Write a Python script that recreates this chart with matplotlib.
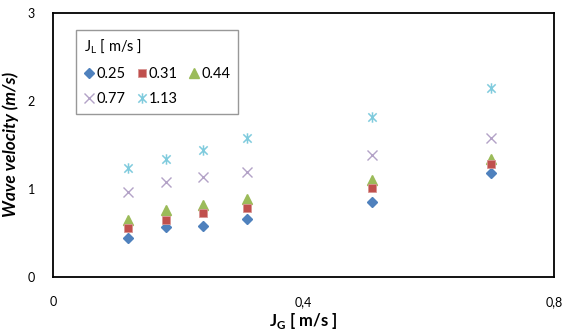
import matplotlib
matplotlib.use("Agg")
import matplotlib.pyplot as plt
from matplotlib.path import Path

plt.rcParams['font.family'] = ['Lato', 'DejaVu Sans']
plt.rcParams['mathtext.fontset'] = 'custom'
plt.rcParams['mathtext.rm'] = 'Lato'
plt.rcParams['mathtext.bf'] = 'Lato:bold'

# Data
jg = [0.12, 0.18, 0.24, 0.31, 0.51, 0.70]
series_labels = ['0.25', '0.31', '0.44', '0.77', '1.13']
v_025 = [0.44, 0.57, 0.58, 0.66, 0.85, 1.18]
v_031 = [0.56, 0.65, 0.73, 0.78, 1.01, 1.28]
v_044 = [0.65, 0.76, 0.82, 0.89, 1.10, 1.34]
v_077 = [0.97, 1.08, 1.13, 1.19, 1.39, 1.58]
v_113 = [1.24, 1.34, 1.44, 1.58, 1.82, 2.15]
x_ticks = [0, 0.4, 0.8]
x_ticklabels = ['0', '0,4', '0,8']
y_ticks = [0, 1, 2, 3]

star = Path([(-1, -1), (1, 1), (-1, 1), (1, -1), (0, -1.25), (0, 1.25)],
            [Path.MOVETO, Path.LINETO, Path.MOVETO, Path.LINETO, Path.MOVETO, Path.LINETO])

fig = plt.figure(figsize=(5.64, 3.33), dpi=100)
ax = fig.add_axes([53/564, 1 - 277/333, (554-53)/564, (277-12.7)/333])

styles = [
    (v_025, dict(marker='D', color='#4F81BD', ms=5.2, mec='#4F81BD', zorder=3)),
    (v_031, dict(marker='s', color='#C0504D', ms=6.3, mec='#D99694', mew=0.6, zorder=5)),
    (v_044, dict(marker='^', color='#9BBB59', ms=7, mec='#9BBB59', zorder=4)),
    (v_077, dict(marker='x', color='#B3A2C7', ms=7.5, mew=1.0, zorder=3)),
    (v_113, dict(marker=star, color='#7FCBDD', ms=7.5, mew=1.1, mfc='none', zorder=3)),
]
handles = []
for (vals, st), lab in zip(styles, series_labels):
    h, = ax.plot(jg, vals, linestyle='none', label=lab, **st)
    handles.append(h)

ax.set_xlim(0, 0.8)
ax.set_ylim(0, 3)
ax.set_xticks(x_ticks)
ax.set_xticklabels(x_ticklabels)
ax.set_yticks(y_ticks)
ax.tick_params(axis='both', length=0, labelsize=9, colors='black')
ax.tick_params(axis='x', pad=14)
ax.tick_params(axis='y', pad=13)
for sp in ax.spines.values():
    sp.set_color('black')
    sp.set_linewidth(1.3)

ax.set_xlabel(r'J$_{\mathbf{G}}$ [ m/s ]', fontsize=12, fontweight='bold', labelpad=2)
ax.set_ylabel('Wave velocity (m/s)', fontsize=12.5, fontweight='bold', style='italic', labelpad=6)

order = [0, 3, 1, 4, 2]
leg = ax.legend([handles[i] for i in order], [series_labels[i] for i in order],
                ncol=3, title=r'J$_{\mathrm{L}}$ [ m/s ]', title_fontsize=10.5, fontsize=10.5,
                loc='upper left', bbox_to_anchor=(76/564, 1 - 30/333),
                bbox_transform=fig.transFigure, frameon=True, fancybox=False,
                edgecolor='#7f7f7f', handlelength=0.7, handletextpad=0.15,
                columnspacing=0.75, borderpad=0.55, labelspacing=0.75,
                borderaxespad=0, alignment='left')
leg.get_frame().set_linewidth(1.0)

fig.savefig('out.png', dpi=100)
